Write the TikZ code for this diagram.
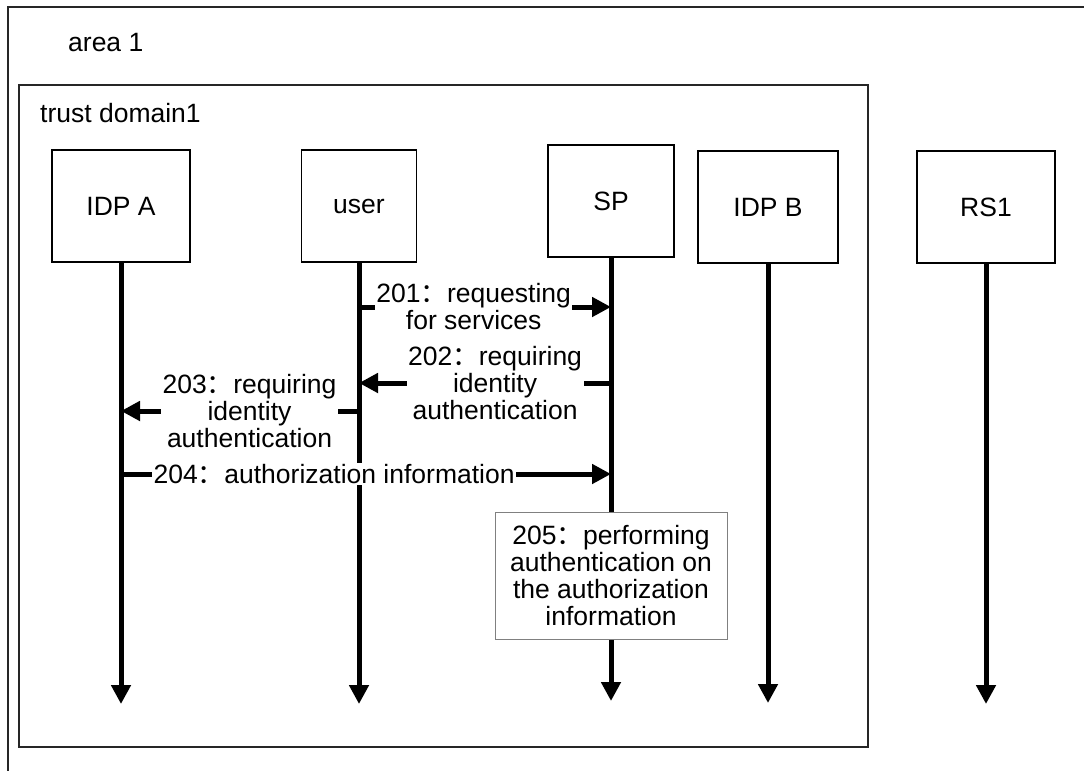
\documentclass[tikz,border=0pt]{standalone}
\usepackage{fontspec}
\setmainfont{Liberation Sans}
\newfontfamily\cjk{Noto Sans CJK SC}
\usetikzlibrary{arrows.meta}
\newcommand{\fcolon}{{\cjk ：}}
\begin{document}
\begin{tikzpicture}[x=1pt,y=-1pt,
  every node/.style={font=\fontsize{26.5}{27}\selectfont},
  frame/.style={line width=1.3pt, draw=black!85},
  actor/.style={draw, line width=1.2pt, minimum width=#1, minimum height=112pt, inner sep=0pt},
  life/.style={line width=5pt, -{Triangle[length=19pt,width=19pt]}},
  msg/.style={line width=5pt, -{Triangle[length=19pt,width=19pt]}},
  lbl/.style={fill=white, inner sep=1.5pt, align=center},
  stepbox/.style={draw=black!50, line width=0.8pt, fill=white, align=center,
    minimum width=232pt, minimum height=127pt, inner sep=2pt}
]
\useasboundingbox (0,0) rectangle (1084,771);
% outer area
\draw[frame] (1084,7) -- (8,7) -- (8,771);
\node[anchor=base west, inner sep=0pt] (area) at (68,51) {area 1};
% trust domain
\draw[frame] (19,85) rectangle (868,747);
\node[anchor=base west, inner sep=0pt] (trust) at (40,122) {trust domain1};
% actors
\node[actor=138pt] (A) at (121,206) {IDP A};
\node[actor=115pt] (U) at (359,206) {user};
\node[actor=126pt] (S) at (611,201) {SP};
\node[actor=140pt] (B) at (768,207) {IDP B};
\node[actor=138pt] (R) at (986,207) {RS1};
% lifeline ends
\coordinate (Ae) at (121,704);
\coordinate (Ue) at (359,704);
\coordinate (Se) at (611,701);
\coordinate (Be) at (768,703);
\coordinate (Re) at (986,704);
\draw[life] (A.south) -- (Ae);
\draw[life] (U.south) -- (Ue);
\draw[life] (S.south) -- (Se);
\draw[life] (B.south) -- (Be);
\draw[life] (R.south) -- (Re);
% message anchor points
\coordinate (u1) at (359,307);
\coordinate (s1) at (611,307);
\coordinate (s2) at (611,383);
\coordinate (u2) at (359,383);
\coordinate (u3) at (359,411);
\coordinate (a3) at (121,411);
\coordinate (a4) at (121,474);
\coordinate (s4) at (611,474);
\draw[msg] (u1) -- node[lbl, pos=0.455] (m1) {201\fcolon requesting\\for services} (s1);
\draw[msg] (s2) -- node[lbl, pos=0.46] (m2) {202\fcolon requiring\\identity\\authentication} (u2);
\draw[msg] (u3) -- node[lbl, pos=0.46] (m3) {203\fcolon requiring\\identity\\authentication} (a3);
\draw[msg] (a4) -- node[lbl, pos=0.435] (m4) {204\fcolon authorization information} (s4);
% step 205
\node[stepbox] (P) at (611,576) {205\fcolon performing\\authentication on\\the authorization\\information};
\end{tikzpicture}
\end{document}
